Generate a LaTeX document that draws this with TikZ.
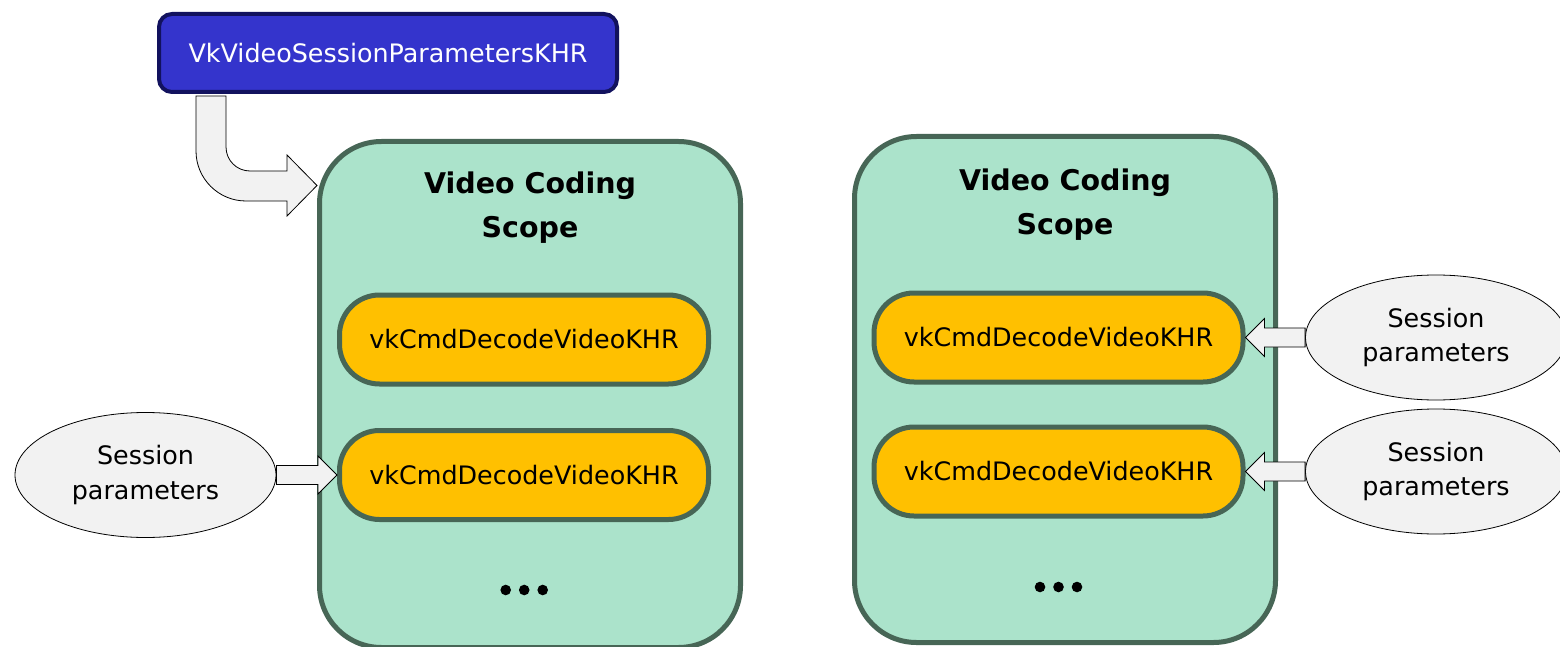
\documentclass[tikz,border=0pt]{standalone}
\usepackage{fontspec}
\setmainfont{DejaVu Sans}
\usetikzlibrary{calc,shapes.geometric}
\definecolor{blueF}{HTML}{3434CC}
\definecolor{blueD}{HTML}{12125E}
\definecolor{scopeF}{HTML}{ABE3CB}
\definecolor{greyD}{HTML}{476656}
\definecolor{orangeF}{HTML}{FFC000}
\definecolor{lightF}{HTML}{F2F2F2}
\tikzset{
 apibox/.style={draw=blueD, fill=blueF, line width=4pt, rounded corners=13pt, minimum width=458pt, minimum height=78pt, text=white, font=\fontsize{25.4pt}{30pt}\selectfont, inner sep=0pt},
 scopebox/.style={draw=greyD, fill=scopeF, line width=5pt, rounded corners=62pt, minimum width=421pt, minimum height=506pt, inner sep=0pt},
 title/.style={font=\bfseries\fontsize{28.5pt}{44pt}\selectfont, align=center, inner sep=0pt},
 cmdbox/.style={draw=greyD, fill=orangeF, line width=5pt, rounded corners=40pt, minimum width=369pt, minimum height=89pt, font=\fontsize{25.4pt}{30pt}\selectfont, inner sep=0pt},
 paramell/.style={ellipse, draw=black, line width=0.8pt, fill=lightF, minimum width=261pt, minimum height=125pt, inner sep=0pt, align=center, font=\fontsize{25.4pt}{34.5pt}\selectfont},
 barrow/.style={draw=black, line width=0.8pt, fill=lightF, line join=miter},
 dotmark/.style={fill=black}
}
\newcommand\blockarrow[2]{%
  \coordinate (ba-b) at ($(#2)!19pt!(#1)$);
  \filldraw[barrow] ($(#1)!9.5pt!90:(#2)$) -- ($(ba-b)!9.5pt!-90:(#1)$) -- ($(ba-b)!19pt!-90:(#1)$) -- (#2)
    -- ($(ba-b)!19pt!90:(#1)$) -- ($(ba-b)!9.5pt!90:(#1)$) -- ($(#1)!9.5pt!-90:(#2)$) -- cycle;
}
\begin{document}
\begin{tikzpicture}[x=1pt,y=-1pt]
\useasboundingbox (0,0) rectangle (1560,647);
% scopes
\node[scopebox] (scopeL) at (530,394.5) {};
\node[scopebox] (scopeR) at (1065,389.5) {};
\node[title] (titleL) at (530,208) {Video Coding\\Scope};
\node[title] (titleR) at (1065,204.5) {Video Coding\\Scope};
% commands
\node[cmdbox] (dL1) at (524,339.5) {vkCmdDecodeVideoKHR};
\node[cmdbox] (dL2) at (524,475) {vkCmdDecodeVideoKHR};
\node[cmdbox] (dR1) at (1058.5,337.5) {vkCmdDecodeVideoKHR};
\node[cmdbox] (dR2) at (1058.5,471.5) {vkCmdDecodeVideoKHR};
% dots
\fill[dotmark] (505.7,590) circle (5.3pt) (524.2,590) circle (5.3pt) (542.7,590) circle (5.3pt);
\fill[dotmark] (1040,587) circle (5.3pt) (1058.5,587) circle (5.3pt) (1077,587) circle (5.3pt);
% parameter ellipses
\node[paramell] (spL) at (145.5,475) {Session\\parameters};
\node[paramell] (spR1) at (1436,337.5) {Session\\parameters};
\node[paramell] (spR2) at (1436,471.5) {Session\\parameters};
% block arrows
\blockarrow{spL.east}{dL2.west}
\blockarrow{spR1.west}{dR1.east}
\blockarrow{spR2.west}{dR2.east}
% api box
\node[apibox] (api) at (388,53) {VkVideoSessionParametersKHR};
% curved arrow
\coordinate (ctip) at (317,185.5);
\filldraw[barrow] ($(api.south west)+(39,2)$) -- (196,151) .. controls (196,178.6) and (218.4,201) .. (246,201)
  -- (287,201) -- (287,216) -- (ctip) -- (287,155) -- (287,171) -- (250,171)
  .. controls (236.7,171) and (226,160.3) .. (226,147) -- ($(api.south west)+(69,2)$) -- cycle;
\end{tikzpicture}
\end{document}
